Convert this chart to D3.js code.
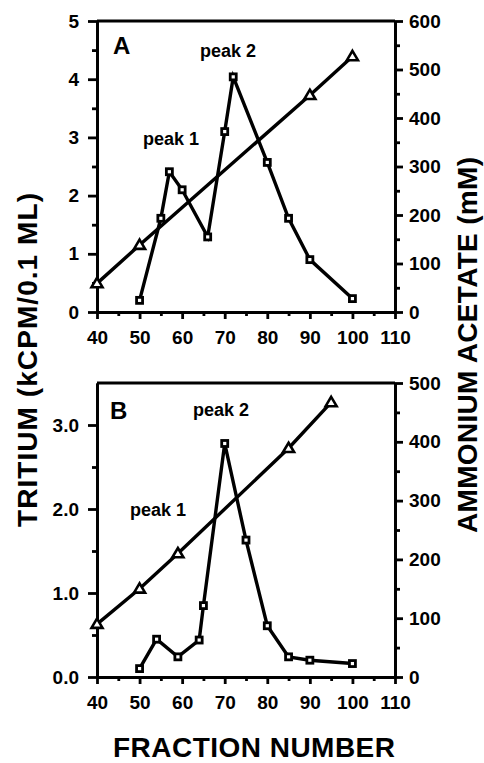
<!DOCTYPE html>
<html>
<head>
<meta charset="utf-8">
<script src="https://cdn.jsdelivr.net/npm/d3@7"></script>
<style>
  html, body { margin: 0; padding: 0; background: #fff; }
  svg { display: block; font-family: "Liberation Sans", Arial, Helvetica, sans-serif; }
  .domain { stroke: #000; stroke-width: 2.8; }
  .tick line { stroke: #000; stroke-width: 2.8; }
  .tick text { font-size: 19px; font-weight: bold; fill: #000; }
</style>
</head>
<body>
<div id="chart"></div>
<script>
// data +++++++++++++++++++++++++++++++++++++++++++
// panel A: tritium (squares, left axis) and ammonium acetate (triangles, right axis)
const fracA = [50, 55, 57, 60, 66, 70, 72, 80, 85, 90, 100];
const tritiumA = [0.2, 1.61, 2.41, 2.1, 1.29, 3.1, 4.04, 2.57, 1.61, 0.9, 0.23];
const fracSaltA = [40, 50, 90, 100];
const acetateA = [59, 138, 447, 527];

// panel B
const fracB = [50, 54, 59, 64, 65, 70, 75, 80, 85, 90, 100];
const tritiumB = [0.1, 0.45, 0.24, 0.44, 0.85, 2.78, 1.63, 0.61, 0.24, 0.2, 0.16];
const fracSaltB = [40, 50, 59, 85, 95];
const acetateB = [90, 150, 210, 389, 467];

// ticks
const xTicks = [40, 50, 60, 70, 80, 90, 100, 110];
const xMinorTicks = [45, 55, 65, 75, 85, 95, 105];
const leftTicksA = [0, 1, 2, 3, 4, 5];
const rightTicksA = [0, 100, 200, 300, 400, 500, 600];
const leftTicksB = [0, 1, 2, 3];
const rightTicksB = [0, 100, 200, 300, 400, 500];
// data -------------------------------------------

const width = 484;
const height = 763;

const svg = d3.select("#chart")
  .append("svg")
  .attr("width", width)
  .attr("height", height);

const x0 = 97, x1 = 395; // plot left / right edge

function drawPanel(p) {
  const x = d3.scaleLinear().domain([40, 110]).range([x0, x1]);
  const yL = d3.scaleLinear().domain([0, p.leftMax]).range([p.bottom, p.top]);
  const yR = d3.scaleLinear().domain([0, p.rightMax]).range([p.bottom, p.top]);

  const g = svg.append("g");

  // top frame line
  g.append("line")
    .attr("x1", x0).attr("x2", x1)
    .attr("y1", p.top).attr("y2", p.top)
    .attr("stroke", "#000").attr("stroke-width", 2.8);

  // bottom axis, major + minor
  g.append("g")
    .attr("transform", `translate(0,${p.bottom})`)
    .call(d3.axisBottom(x).tickValues(xTicks).tickSize(7).tickSizeOuter(0).tickPadding(12));
  g.append("g")
    .attr("transform", `translate(0,${p.bottom})`)
    .call(d3.axisBottom(x).tickValues(xMinorTicks).tickSize(4).tickSizeOuter(0).tickFormat(""));

  // left axis
  const leftMinor = d3.range(0.5, p.leftMax, 1);
  g.append("g")
    .attr("transform", `translate(${x0},0)`)
    .call(d3.axisLeft(yL).tickValues(p.leftTicks).tickSize(9).tickSizeOuter(0)
      .tickPadding(9).tickFormat(d3.format(p.leftFormat)));
  g.append("g")
    .attr("transform", `translate(${x0},0)`)
    .call(d3.axisLeft(yL).tickValues(leftMinor).tickSize(5).tickSizeOuter(0).tickFormat(""));

  // right axis
  const rightMinor = d3.range(50, p.rightMax, 100);
  g.append("g")
    .attr("transform", `translate(${x1},0)`)
    .call(d3.axisRight(yR).tickValues(p.rightTicks).tickSize(8).tickSizeOuter(0).tickPadding(6));
  g.append("g")
    .attr("transform", `translate(${x1},0)`)
    .call(d3.axisRight(yR).tickValues(rightMinor).tickSize(5).tickSizeOuter(0).tickFormat(""));

  // salt gradient line + triangles
  const salt = p.saltX.map((f, i) => ({ f, v: p.saltY[i] }));
  const lineR = d3.line().x(d => x(d.f)).y(d => yR(d.v));
  g.append("path")
    .datum(salt)
    .attr("d", lineR)
    .attr("fill", "none")
    .attr("stroke", "#000")
    .attr("stroke-width", 3.4);

  g.selectAll(".tri")
    .data(salt)
    .enter()
    .append("path")
    .attr("class", "tri")
    .attr("transform", d => `translate(${x(d.f)},${yR(d.v)})`)
    .attr("d", "M0,-5.5 L5.5,3.8 L-5.5,3.8 Z")
    .attr("fill", "#fff")
    .attr("stroke", "#000")
    .attr("stroke-width", 2.6)
    .attr("stroke-linejoin", "miter");

  // tritium line + squares
  const trit = p.tritX.map((f, i) => ({ f, v: p.tritY[i] }));
  const lineL = d3.line().x(d => x(d.f)).y(d => yL(d.v));
  g.append("path")
    .datum(trit)
    .attr("d", lineL)
    .attr("fill", "none")
    .attr("stroke", "#000")
    .attr("stroke-width", 3.4)
    .attr("stroke-linejoin", "miter");

  g.selectAll(".sq")
    .data(trit)
    .enter()
    .append("rect")
    .attr("class", "sq")
    .attr("x", d => x(d.f) - 3)
    .attr("y", d => yL(d.v) - 3)
    .attr("width", 6)
    .attr("height", 6)
    .attr("fill", "#fff")
    .attr("stroke", "#000")
    .attr("stroke-width", 2.8);

  // panel letter and peak labels
  g.append("text")
    .attr("x", p.letterPos[0]).attr("y", p.letterPos[1])
    .attr("font-size", 24).attr("font-weight", "bold")
    .text(p.letter);

  p.peaks.forEach(pk => {
    g.append("text")
      .attr("x", pk.x).attr("y", pk.y)
      .attr("font-size", 18).attr("font-weight", "bold")
      .text(pk.label);
  });
}

drawPanel({
  top: 21, bottom: 312,
  leftMax: 5, rightMax: 600,
  leftTicks: leftTicksA, rightTicks: rightTicksA, leftFormat: "d",
  tritX: fracA, tritY: tritiumA,
  saltX: fracSaltA, saltY: acetateA,
  letter: "A", letterPos: [113, 54],
  peaks: [{ label: "peak 2", x: 200, y: 57 }, { label: "peak 1", x: 143, y: 145 }]
});

drawPanel({
  top: 383, bottom: 677,
  leftMax: 3.5, rightMax: 500,
  leftTicks: leftTicksB, rightTicks: rightTicksB, leftFormat: ".1f",
  tritX: fracB, tritY: tritiumB,
  saltX: fracSaltB, saltY: acetateB,
  letter: "B", letterPos: [110, 419],
  peaks: [{ label: "peak 2", x: 193, y: 416 }, { label: "peak 1", x: 130, y: 516 }]
});

// axis titles
svg.append("text")
  .attr("transform", "translate(37,360) rotate(-90)")
  .attr("text-anchor", "middle")
  .attr("font-size", 28).attr("font-weight", "bold")
  .attr("textLength", 334).attr("lengthAdjust", "spacing")
  .text("TRITIUM (kCPM/0.1 ML)");

svg.append("text")
  .attr("transform", "translate(477,345) rotate(-90)")
  .attr("text-anchor", "middle")
  .attr("font-size", 28).attr("font-weight", "bold")
  .attr("textLength", 376).attr("lengthAdjust", "spacing")
  .text("AMMONIUM ACETATE (mM)");

svg.append("text")
  .attr("x", 254).attr("y", 757)
  .attr("text-anchor", "middle")
  .attr("font-size", 28).attr("font-weight", "bold")
  .attr("textLength", 282).attr("lengthAdjust", "spacing")
  .text("FRACTION NUMBER");
</script>
</body>
</html>
